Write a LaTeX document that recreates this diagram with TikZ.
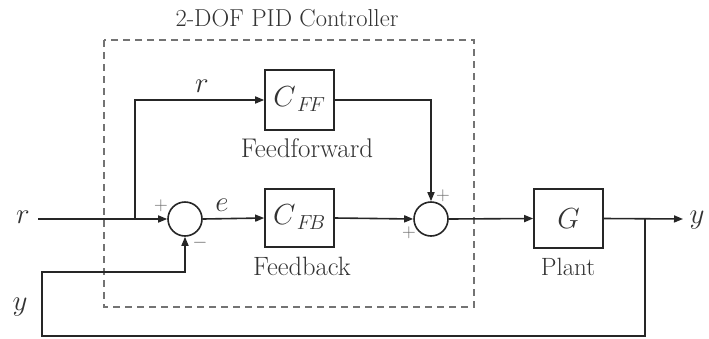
\documentclass[tikz,border=0pt]{standalone}
\usepackage{fix-cm}
\usetikzlibrary{arrows.meta}
\begin{document}
\begin{tikzpicture}[x=1pt,y=-1pt,
  wire/.style={line width=1.6pt,black!85},
  arr/.style={wire,-{Triangle[length=9pt,width=7pt]}},
  blk/.style={draw=black!85,line width=1.6pt,minimum width=69pt,inner sep=0pt},
  sumc/.style={circle,draw=black!85,line width=1.6pt,minimum size=34pt,inner sep=0pt},
  txt/.style={text=black!80,inner sep=0pt},
  mth/.style={font=\fontsize{29}{34}\selectfont,text=black!80,inner sep=0pt},
  sgn/.style={font=\fontsize{19}{20}\selectfont,text=black!60,inner sep=0pt}]
\useasboundingbox (0,0) rectangle (709,338);
% dashed controller box
\draw[black!55,line width=1.4pt,dash pattern=on 7pt off 5pt] (104,40) rectangle (474,307);
\node[txt,font=\fontsize{24.5}{28}\selectfont] (title) at (287,18) {2-DOF PID Controller};
% blocks
\node[blk,minimum height=60pt] (cff) at (299.5,100) {};
\node[mth] at ([yshift=1pt]cff.center) {$C_{\,F\!F}$};
\node[blk,minimum height=58pt] (cfb) at (299.5,218) {};
\node[mth] at ([yshift=1pt]cfb.center) {$C_{\,F\!B}$};
\node[blk,minimum height=59pt] (plant) at (568.5,218.5) {};
\node[mth] at (plant.center) {$G$};
\node[sumc] (s1) at (185,219) {};
\node[sumc] (s2) at (431,219) {};
% coordinates
\coordinate (rin) at (38,219);
\coordinate (br) at (135,219);
\coordinate (brt) at (135,100);
\coordinate (fbo) at (645,219);
\coordinate (yout) at (683,219);
\coordinate (b1) at (645,336);
\coordinate (b2) at (42,336);
\coordinate (b3) at (42,272);
\coordinate (b4) at (185,272);
% connectors
\draw[arr] (rin) -- (s1.west);
\draw[arr] (br) -- (brt) -- (cff.west);
\draw[arr] (s1.east) -- (cfb.west);
\draw[arr] (cfb.east) -- (s2.west);
\draw[arr] (cff.east) -| (s2.north);
\draw[arr] (s2.east) -- (plant.west);
\draw[arr] (plant.east) -- (yout);
\draw[arr] (fbo) -- (b1) -- (b2) -- (b3) -- (b4) -- (s1.south);
% labels
\node[mth] (lr) at (23,217) {$r$};
\node[mth] (lr2) at (202,86) {$r$};
\node[mth] (le) at (222,205) {$e$};
\node[mth] (ly) at (697,220) {$y$};
\node[mth] (ly2) at (20,307) {$y$};
\node[sgn] at (161,206) {$+$};
\node[sgn] at (200,243) {$-$};
\node[sgn] at (443,196) {$+$};
\node[sgn] at (409,233) {$+$};
\node[txt,font=\fontsize{27}{30}\selectfont] (ff) at (307,148) {Feedforward};
\node[txt,font=\fontsize{26.5}{30}\selectfont] (fb) at (302,266) {Feedback};
\node[txt,font=\fontsize{25}{30}\selectfont] (pl) at (568,267) {Plant};
\end{tikzpicture}
\end{document}
